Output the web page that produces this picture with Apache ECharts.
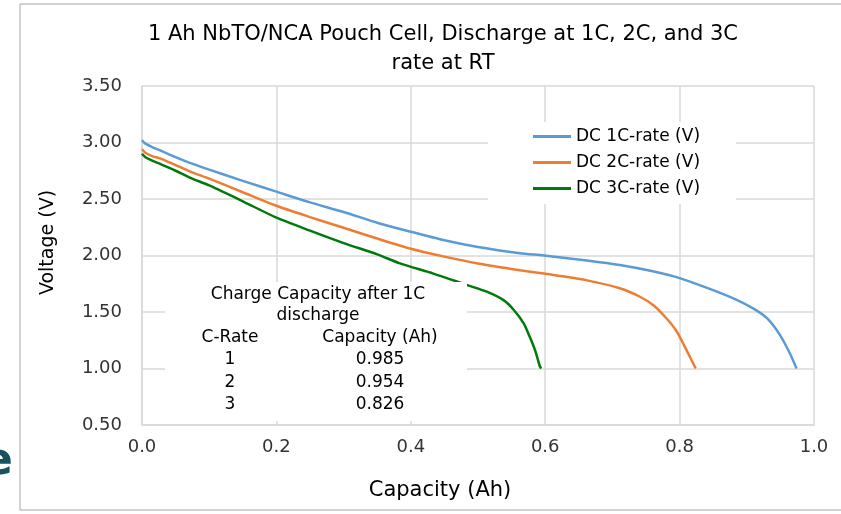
<!DOCTYPE html>
<html><head><meta charset="utf-8">
<script src="https://cdn.jsdelivr.net/npm/echarts@6/dist/echarts.min.js"></script>
<style>html,body{margin:0;padding:0;background:#fff}#c{width:841px;height:514px}</style>
</head><body><div id="c"></div>
<script>
const titleLines = ['1 Ah NbTO/NCA Pouch Cell, Discharge at 1C, 2C, and 3C', 'rate at RT'];
const seriesNames = ['DC 1C-rate (V)', 'DC 2C-rate (V)', 'DC 3C-rate (V)'];
const cap1C = [0, 0.005, 0.015, 0.027, 0.05, 0.071, 0.1, 0.15, 0.2, 0.25, 0.3, 0.35, 0.4, 0.45, 0.5, 0.5625, 0.598, 0.662, 0.711, 0.76, 0.80, 0.84, 0.88, 0.91, 0.93, 0.949, 0.964, 0.974];
const volt1C = [3.02, 2.99, 2.96, 2.93, 2.87, 2.82, 2.76, 2.66, 2.565, 2.47, 2.385, 2.29, 2.21, 2.135, 2.075, 2.02, 2.00, 1.955, 1.915, 1.86, 1.80, 1.715, 1.62, 1.53, 1.445, 1.30, 1.135, 1.00];
const cap2C = [0, 0.005, 0.015, 0.027, 0.05, 0.071, 0.1, 0.15, 0.2, 0.25, 0.3, 0.35, 0.4, 0.45, 0.5, 0.5625, 0.598, 0.662, 0.711, 0.741, 0.761, 0.781, 0.796, 0.8105, 0.824];
const volt2C = [2.94, 2.91, 2.88, 2.86, 2.80, 2.745, 2.68, 2.56, 2.44, 2.34, 2.245, 2.15, 2.06, 1.99, 1.93, 1.87, 1.84, 1.78, 1.71, 1.635, 1.56, 1.44, 1.325, 1.16, 1.00];
const cap3C = [0, 0.005, 0.015, 0.027, 0.05, 0.071, 0.1, 0.15, 0.2, 0.25, 0.3, 0.35, 0.384, 0.4335, 0.483, 0.513, 0.538, 0.553, 0.568, 0.577, 0.585, 0.592, 0.594];
const volt3C = [2.90, 2.87, 2.84, 2.81, 2.75, 2.69, 2.62, 2.48, 2.335, 2.22, 2.11, 2.01, 1.93, 1.84, 1.74, 1.68, 1.605, 1.52, 1.40, 1.28, 1.16, 1.02, 1.00];
const tableTitle = ['Charge Capacity after 1C', 'discharge'];
const tableHeader = ['C-Rate', 'Capacity (Ah)'];
const tableRates = ['1', '2', '3'];
const tableCapacities = ['0.985', '0.954', '0.826'];

const FONT = '"DejaVu Sans", sans-serif';
const colors = ['#5b9bd5', '#ed7d31', '#007a0c'];
const zip = (a, b) => a.map((x, i) => [x, b[i]]);
const caps = [cap1C, cap2C, cap3C];
const volts = [volt1C, volt2C, volt3C];

const chart = echarts.init(document.getElementById('c'), null, {renderer: 'canvas'});

const TF = '17px ' + FONT;
const txt = (t, x, y) => ({type: 'text', z: 101, silent: true, style: {text: t, x: x, y: y, align: 'center', verticalAlign: 'middle', font: TF, fill: '#000'}});
const graphics = [
  {type: 'rect', z: 0, silent: true, shape: {x: 20, y: 4, width: 840, height: 506}, style: {fill: 'none', stroke: '#a6a6a6', lineWidth: 1}},
  {type: 'text', z: 0, silent: true, style: {text: 'e', x: -17, y: 463, verticalAlign: 'middle', font: 'bold 44px ' + FONT, fill: '#17525f'}},
  {type: 'rect', z: 100, silent: true, shape: {x: 165, y: 282, width: 302, height: 139}, style: {fill: '#fff'}},
  txt(tableTitle[0], 318, 295),
  txt(tableTitle[1], 318, 316),
  txt(tableHeader[0], 230, 338),
  txt(tableHeader[1], 380, 338)
];
tableRates.forEach((r, i) => {
  graphics.push(txt(r, 230, 360 + i * 22.5));
  graphics.push(txt(tableCapacities[i], 380, 360 + i * 22.5));
});

chart.setOption({
  animation: false,
  backgroundColor: '#fff',
  title: {
    text: titleLines.join('\n'),
    left: 438, top: 15, textAlign: 'center',
    textStyle: {fontFamily: FONT, fontSize: 21, fontWeight: 'normal', color: '#000', lineHeight: 29}
  },
  grid: {left: 142, right: 27, top: 86, bottom: 89, containLabel: false},
  legend: {
    orient: 'vertical', left: 488, top: 122,
    backgroundColor: '#fff',
    padding: [5, 36, 6, 45],
    itemWidth: 38, itemHeight: 3, itemGap: 7, icon: 'rect',
    textStyle: {fontFamily: FONT, fontSize: 17, color: '#000', lineHeight: 19},
    data: seriesNames
  },
  xAxis: {
    type: 'value', min: 0, max: 1, interval: 0.2,
    name: 'Capacity (Ah)', nameLocation: 'middle', nameGap: 55,
    nameTextStyle: {fontFamily: FONT, fontSize: 21, color: '#000', padding: [0, 76, 0, 0]},
    axisLine: {show: true, lineStyle: {color: '#d9d9d9', width: 1.5}},
    axisTick: {show: false},
    axisLabel: {formatter: v => v.toFixed(1), fontFamily: FONT, fontSize: 18, color: '#333', margin: 13},
    splitLine: {show: true, lineStyle: {color: '#d9d9d9', width: 1.5}}
  },
  yAxis: {
    type: 'value', min: 0.5, max: 3.5, interval: 0.5,
    name: 'Voltage (V)', nameLocation: 'middle', nameGap: 84, nameRotate: 90,
    nameTextStyle: {fontFamily: FONT, fontSize: 19, color: '#000', padding: [0, 0, 0, 26]},
    axisLine: {show: true, lineStyle: {color: '#d9d9d9', width: 1.5}},
    axisTick: {show: false},
    axisLabel: {formatter: v => v.toFixed(2), fontFamily: FONT, fontSize: 18, color: '#333', margin: 20},
    splitLine: {show: true, lineStyle: {color: '#d9d9d9', width: 1.5}}
  },
  series: seriesNames.map((n, i) => ({
    name: n, type: 'line', data: zip(caps[i], volts[i]),
    smooth: 0.25, showSymbol: false, symbol: 'none',
    lineStyle: {color: colors[i], width: 2.5},
    itemStyle: {color: colors[i]}
  })),
  graphic: graphics
});
</script></body></html>
